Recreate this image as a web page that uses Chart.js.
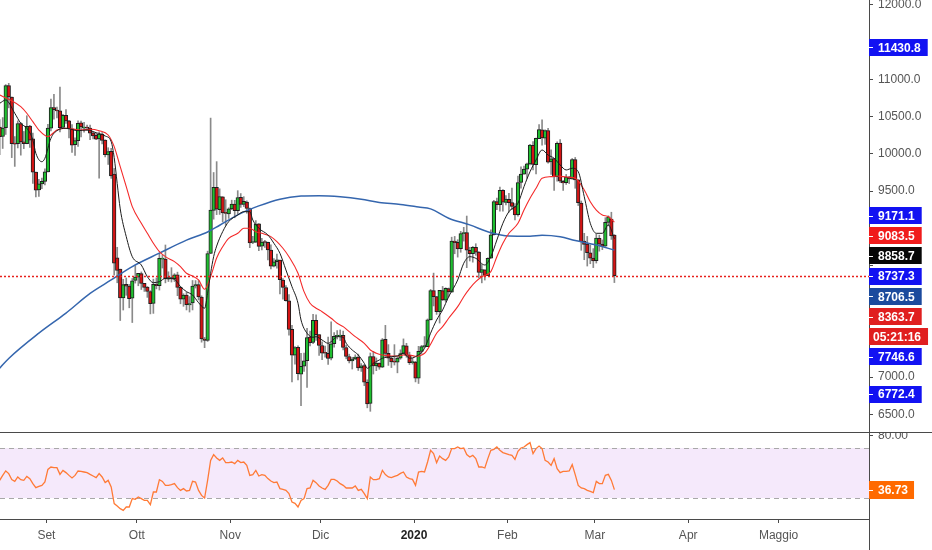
<!DOCTYPE html>
<html>
<head>
<meta charset="utf-8">
<title>BTC daily</title>
<script src="https://cdn.jsdelivr.net/npm/chart.js@4.4.1/dist/chart.umd.min.js"></script>
<style>
  html, body { margin: 0; padding: 0; background: #fff; }
  #wrap { position: relative; width: 932px; height: 550px; overflow: hidden; }
  #price { position: absolute; left: 0; top: 0; }
  #rsi { position: absolute; left: 0; top: 433px; }
</style>
</head>
<body>
<div id="wrap">
  <canvas id="price" width="932" height="433"></canvas>
  <canvas id="rsi" width="932" height="117"></canvas>
</div>
<script>
// Daily candles [open, high, low, close], Aug 17 2019 .. Mar 8 2020 (last one still open)
const ohlc = [
  [10360, 10460, 9990, 10230], [10233, 10487, 10072, 10345], [10350, 10930, 10260, 10917], [10917, 10947, 10618, 10763],
  [10764, 10764, 9949, 10138], [10142, 10232, 9831, 10131], [10136, 10442, 10079, 10407], [10407, 10419, 9982, 10159],
  [10161, 10301, 10070, 10138], [10136, 10512, 10135, 10370], [10373, 10382, 10087, 10185], [10203, 10279, 9601, 9755],
  [9756, 9756, 9421, 9510], [9514, 9656, 9428, 9598], [9597, 9673, 9531, 9630], [9630, 9797, 9582, 9757],
  // Sep
  [9758, 10396, 9758, 10347], [10345, 10736, 10308, 10623], [10621, 10800, 10465, 10594], [10588, 10627, 10481, 10575],
  [10578, 10898, 10294, 10353], [10354, 10532, 10354, 10518], [10518, 10595, 10409, 10441], [10443, 10450, 10214, 10334],
  [10336, 10394, 10020, 10115], [10123, 10215, 9980, 10178], [10176, 10442, 10099, 10410], [10415, 10441, 10226, 10360],
  [10345, 10422, 10291, 10358], [10357, 10387, 10313, 10347], [10347, 10386, 10189, 10276], [10281, 10296, 10199, 10241],
  [10248, 10275, 10191, 10198], [10200, 10295, 9674, 10266], [10266, 10285, 10132, 10181], [10183, 10188, 9960, 9988],
  [9985, 10082, 9857, 10031], [10032, 10074, 9670, 9702], [9729, 9804, 8370, 8530], [8604, 8744, 8267, 8432],
  [8450, 8450, 7760, 8064], [8063, 8314, 7901, 8243], [8246, 8332, 8099, 8223], [8222, 8245, 7931, 8055],
  [8061, 8325, 7733, 8292],
  // Oct
  [8299, 8497, 8263, 8343], [8344, 8393, 8227, 8393], [8390, 8413, 8177, 8259], [8260, 8260, 8151, 8205],
  [8210, 8216, 8071, 8151], [8149, 8161, 7849, 7988], [7989, 8316, 7856, 8245], [8246, 8332, 8185, 8228],
  [8229, 8665, 8169, 8595], [8586, 8640, 8465, 8586], [8585, 8775, 8266, 8321], [8315, 8415, 8284, 8336],
  [8336, 8470, 8277, 8321], [8321, 8390, 8284, 8374], [8373, 8410, 8094, 8205], [8205, 8216, 7985, 8047],
  [8048, 8120, 7951, 8103], [8101, 8138, 7902, 7973], [7971, 8082, 7874, 7988], [7997, 8298, 7902, 8222],
  [8225, 8297, 8196, 8243], [8243, 8296, 8037, 8078], [8076, 8092, 7469, 7514], [7510, 7533, 7395, 7493],
  [7493, 8692, 7479, 8660], [8660, 10480, 8660, 9244], [9241, 9749, 9122, 9551], [9549, 9895, 9183, 9256],
  [9249, 9530, 9186, 9427], [9422, 9426, 9085, 9205], [9202, 9383, 9040, 9199],
  // Nov
  [9193, 9275, 9132, 9261], [9259, 9377, 9249, 9324], [9325, 9375, 9141, 9235], [9235, 9505, 9191, 9413],
  [9414, 9466, 9280, 9320], [9320, 9424, 9291, 9360], [9352, 9368, 9202, 9267], [9265, 9272, 8739, 8804],
  [8809, 8891, 8793, 8813], [8812, 9103, 8806, 9055], [9059, 9062, 8700, 8757], [8759, 8864, 8710, 8815],
  [8813, 8836, 8742, 8808], [8812, 8813, 8576, 8708], [8705, 8778, 8453, 8491], [8491, 8591, 8479, 8550],
  [8550, 8653, 8463, 8577], [8573, 8573, 8117, 8309], [8305, 8323, 8048, 8206], [8203, 8229, 8021, 8027],
  [8023, 8110, 7564, 7642], [7643, 7697, 6936, 7296], [7296, 7410, 7175, 7397], [7399, 7420, 6962, 7047],
  [7039, 7319, 6617, 7146], [7145, 7321, 7077, 7218], [7220, 7656, 6861, 7531], [7536, 7617, 7419, 7464],
  [7466, 7844, 7448, 7761], [7764, 7836, 7494, 7569],
  // Dec
  [7571, 7571, 7291, 7424], [7424, 7474, 7233, 7322], [7323, 7418, 7268, 7320], [7320, 7539, 7170, 7252],
  [7253, 7743, 7232, 7448], [7450, 7597, 7401, 7546], [7547, 7625, 7512, 7556], [7551, 7633, 7491, 7564],
  [7561, 7618, 7365, 7400], [7398, 7428, 7245, 7278], [7277, 7308, 7190, 7217], [7216, 7266, 7108, 7243],
  [7245, 7299, 7234, 7269], [7268, 7308, 7089, 7124], [7124, 7181, 7076, 7152], [7153, 7171, 6884, 6932],
  [6931, 6964, 6587, 6640], [6647, 7324, 6540, 7277], [7277, 7346, 7041, 7151], [7151, 7257, 7086, 7187],
  [7188, 7190, 7105, 7132], [7132, 7518, 7128, 7501], [7508, 7695, 7268, 7317], [7318, 7436, 7157, 7255],
  [7255, 7272, 7128, 7204], [7205, 7436, 7162, 7202], [7202, 7275, 7057, 7254], [7255, 7366, 7239, 7317],
  [7317, 7513, 7305, 7422], [7420, 7454, 7266, 7292], [7294, 7335, 7169, 7193],
  // Jan
  [7194, 7254, 7174, 7200], [7202, 7212, 6935, 6985], [6984, 7413, 6914, 7345], [7345, 7427, 7309, 7410],
  [7410, 7544, 7400, 7411], [7410, 7781, 7409, 7769], [7768, 8178, 7768, 8163], [8161, 8397, 7956, 8079],
  [8082, 8082, 7842, 7879], [7878, 8166, 7726, 8166], [8162, 8218, 8029, 8038], [8033, 8200, 8009, 8192],
  [8189, 8197, 8079, 8144], [8141, 8880, 8141, 8827], [8826, 8890, 8657, 8807], [8812, 8846, 8612, 8723],
  [8726, 8958, 8677, 8929], [8927, 9012, 8827, 8942], [8941, 9164, 8470, 8706], [8704, 8745, 8560, 8658],
  [8658, 8755, 8544, 8745], [8744, 8792, 8636, 8680], [8680, 8687, 8333, 8406], [8405, 8514, 8266, 8445],
  [8440, 8442, 8304, 8367], [8364, 8601, 8363, 8596], [8597, 8977, 8597, 8910], [8912, 9375, 8908, 9358],
  [9357, 9406, 9249, 9316], [9316, 9553, 9230, 9508], [9508, 9521, 9230, 9350],
  // Feb
  [9346, 9439, 9313, 9392], [9390, 9468, 9217, 9344], [9344, 9540, 9248, 9293], [9292, 9331, 9112, 9180],
  [9183, 9701, 9163, 9613], [9617, 9824, 9539, 9729], [9726, 9834, 9726, 9795], [9793, 9876, 9670, 9865],
  [9863, 10129, 9850, 10116], [10115, 10165, 9784, 9856], [9855, 10210, 9729, 10208], [10202, 10393, 10202, 10326],
  [10323, 10457, 10116, 10214], [10211, 10321, 10125, 10312], [10313, 10341, 9874, 9889], [9890, 10053, 9722, 9934],
  [9936, 9938, 9507, 9690], [9692, 10161, 9632, 10142], [10144, 10191, 9611, 9633], [9629, 9643, 9507, 9608],
  [9611, 9723, 9589, 9687], [9687, 9698, 9600, 9663], [9663, 9937, 9657, 9924], [9921, 9951, 9537, 9650],
  [9651, 9652, 9305, 9342], [9338, 9366, 8704, 8820], [8826, 8932, 8577, 8784], [8788, 8890, 8492, 8672],
  [8671, 8775, 8523, 8599],
  // Mar
  [8599, 8726, 8471, 8562], [8563, 8921, 8532, 8869], [8866, 8907, 8692, 8787], [8788, 8843, 8712, 8755],
  [8760, 9142, 8757, 9079], [9078, 9167, 9032, 9153], [9122, 9215, 8850, 8898], [8908, 8914, 8270, 8364]
];

// moving averages: [candle index, value]
const ema9 = [
  [0, 10679], [2, 10723], [5, 10545], [7, 10410], [9, 10343], [11, 10186], [12, 10007], [14, 9894],
  [15, 9940], [17, 10209], [19, 10311], [22, 10343], [26, 10311], [29, 10320], [32, 10284], [35, 10240],
  [37, 10163], [38, 9950], [39, 9600], [40, 9260], [42, 8887], [44, 8618], [47, 8506], [49, 8349],
  [51, 8269], [53, 8282], [55, 8327], [58, 8314], [60, 8215], [62, 8148], [64, 8103], [66, 8000],
  [68, 7925], [69, 8126], [70, 8395], [71, 8618], [72, 8760], [74, 8954], [76, 9089], [79, 9178],
  [81, 9223], [83, 9223], [84, 9111], [86, 9000], [89, 8910], [91, 8798], [93, 8664], [95, 8439],
  [97, 8215], [99, 7992], [100, 7767], [102, 7589], [104, 7535], [105, 7543], [107, 7498], [109, 7454],
  [110, 7476], [112, 7543], [114, 7535], [115, 7454], [117, 7364], [119, 7297], [121, 7185], [122, 7118],
  [124, 7185], [126, 7230], [127, 7253], [130, 7274], [132, 7284], [134, 7320], [136, 7253], [138, 7274],
  [141, 7387], [143, 7589], [145, 7767], [147, 7902], [149, 8080], [152, 8305], [154, 8529], [156, 8618],
  [158, 8596], [161, 8506], [163, 8618], [165, 8842], [167, 9067], [169, 9223], [172, 9336], [174, 9559],
  [176, 9760], [178, 9917], [180, 10052], [182, 9984], [184, 9940], [186, 9850], [188, 9783], [190, 9806],
  [192, 9760], [194, 9424], [196, 9067], [198, 8932], [200, 8932], [202, 9044], [204, 8859]
];
const ema21 = [
  [0, 10790], [3, 10733], [7, 10634], [9, 10545], [11, 10432], [13, 10320], [16, 10231], [17, 10253],
  [19, 10320], [22, 10343], [27, 10320], [30, 10330], [33, 10311], [36, 10253], [38, 10096], [40, 9827],
  [42, 9559], [44, 9290], [47, 9067], [49, 8932], [51, 8798], [53, 8686], [55, 8618], [58, 8551],
  [60, 8484], [62, 8395], [64, 8359], [66, 8305], [68, 8180], [70, 8350], [72, 8600], [74, 8752],
  [76, 8865], [79, 8932], [81, 9000], [83, 9000], [85, 8954], [87, 8932], [90, 8887], [92, 8820],
  [94, 8731], [96, 8618], [99, 8395], [101, 8148], [103, 7992], [105, 7925], [107, 7879], [110, 7790],
  [112, 7723], [114, 7678], [116, 7610], [118, 7543], [121, 7454], [123, 7364], [125, 7320], [127, 7297],
  [130, 7284], [132, 7284], [134, 7297], [136, 7297], [138, 7280], [141, 7320], [143, 7440], [145, 7589],
  [147, 7678], [149, 7790], [152, 7946], [154, 8080], [156, 8193], [158, 8282], [160, 8349], [163, 8417],
  [165, 8618], [167, 8798], [169, 8932], [172, 9067], [174, 9245], [176, 9403], [178, 9537], [180, 9671],
  [183, 9693], [185, 9702], [187, 9693], [189, 9685], [191, 9671], [194, 9514], [196, 9357], [198, 9245],
  [200, 9178], [202, 9155], [204, 9083]
];
const sma200 = [
  [0, 7120], [3, 7250], [13, 7590], [22, 7860], [30, 8125], [37, 8305], [44, 8485], [53, 8665],
  [62, 8840], [69, 8950], [73, 9040], [80, 9200], [86, 9300], [93, 9390], [100, 9432], [106, 9438],
  [113, 9424], [120, 9390], [126, 9345], [133, 9320], [139, 9285], [143, 9260], [149, 9135], [156, 9045],
  [163, 8940], [169, 8896], [176, 8893], [180, 8905], [186, 8885], [191, 8835], [198, 8775], [204, 8706]
];

// RSI, one value per candle
const rsiValues = [
  44.1, 48.1, 51.6, 49.5, 44.7, 43.3, 46.8, 44.7, 44.1, 47.3,
  45.5, 41.5, 38.3, 39.3, 40.1, 42.8, 52.9, 54.8, 54.3, 54.3,
  48.9, 52.1, 50.3, 48.1, 46.0, 48.1, 51.6, 51.3, 50.8, 50.3,
  48.9, 47.6, 46.3, 49.5, 46.8, 42.3, 44.1, 38.8, 25.5, 23.6,
  21.5, 20.1, 22.8, 22.8, 29.5, 28.9, 30.8, 29.5, 28.1, 28.1,
  24.7, 34.8, 34.8, 44.7, 43.3, 40.1, 40.1, 40.7, 41.5, 38.3,
  36.1, 37.5, 35.6, 36.1, 43.3, 42.8, 36.1, 32.1, 30.0, 44.1,
  60.1, 64.7, 62.0, 60.1, 62.0, 58.3, 58.3, 58.8, 57.5, 60.1,
  58.3, 58.8, 56.1, 48.1, 48.7, 52.1, 47.6, 48.7, 48.1, 45.5,
  43.6, 42.3, 42.8, 37.5, 36.9, 36.1, 33.5, 26.8, 25.7, 22.8,
  28.1, 29.5, 37.5, 38.0, 44.1, 42.3, 39.6, 38.0, 36.9, 40.1,
  44.9, 44.9, 43.6, 41.5, 40.1, 38.0, 38.0, 38.0, 39.6, 36.1,
  36.9, 33.5, 29.5, 46.8, 44.7, 44.7, 45.5, 52.1, 48.7, 46.8,
  46.3, 47.3, 48.1, 49.7, 50.8, 46.8, 45.5, 44.9, 40.1, 50.8,
  51.3, 50.8, 58.8, 68.1, 65.5, 58.3, 63.6, 61.5, 60.1, 62.8,
  69.5, 69.5, 70.8, 69.5, 70.0, 64.7, 62.8, 64.1, 61.5, 54.8,
  54.8, 54.0, 61.5, 68.1, 68.9, 70.8, 68.1, 66.3, 65.5, 64.7,
  64.1, 60.9, 67.3, 70.0, 70.8, 72.7, 74.3, 65.5, 69.5, 71.6,
  69.5, 60.1, 58.8, 56.1, 61.5, 53.5, 50.3, 51.3, 51.3, 51.6,
  56.7, 48.7, 40.1, 38.0, 37.5, 36.1, 35.3, 34.3, 43.3, 41.5,
  41.5, 48.1, 48.9, 44.1, 36.73
];

const priceTicks = [6500, 7000, 7500, 8000, 8500, 9000, 9500, 10000, 10500, 11000, 11500, 12000];
const rsiTicks = [80];
const rsiBands = [30, 70];
// month starts, in days from Sep 1 2019
const monthDays = [0, 30, 61, 91, 122, 153, 182, 213, 243];
const monthLabels = ['Set', 'Ott', 'Nov', 'Dic', '2020', 'Feb', 'Mar', 'Apr', 'Maggio'];
// value tags on the price scale
const tagValues = [11430.8, 9171.1, 9083.5, 8858.7, 8737.3, 8706.5, 8363.7, 7746.6, 6772.4];
const lastPrice = 8363.7;
const countdown = '05:21:16';
const rsiLast = 36.73;

// ---- view / style ----
const FIRST_DAY = -15.5;          // Aug 17 in days from Sep 1
const X_MIN = -15.4, X_MAX = 273;
const PRICE_MIN = 6262, PRICE_MAX = 12067;
const RSI_MIN = 13.2, RSI_MAX = 82;
const AXIS_W = 63;
const AXIS = '#4a4a4a';
const TEXT = '#555555';
const GREEN = '#1fbf30', RED = '#d41414', EDGE = '#1e1e1e', WICK = '#8a8a8a';
const RSI_COLOR = '#ff7a36';
const tagColors = ['#1212f2', '#1212f2', '#f01b1b', '#060606', '#1212f2', '#1b4a9d', '#e01f1f', '#1212f2', '#1212f2'];
const TAG_STEP = 20.2, TAG_H = 17;
const TAG_FONT = 'bold 12px "Liberation Sans", Arial, sans-serif';

Chart.defaults.font.family = '"Liberation Sans", Arial, sans-serif';
Chart.defaults.font.size = 12;

const candleX = i => i + FIRST_DAY;
const toPoints = pairs => pairs.map(p => ({ x: candleX(p[0]), y: p[1] }));

// no label padding around the panes: they are cut exactly like the screenshot
function fixAxis(size) {
  return s => {
    if (s.isHorizontal()) s.height = size; else s.width = size;
    s.paddingTop = 0; s.paddingBottom = 0; s.paddingLeft = 0; s.paddingRight = 0;
  };
}

// TradingView stacks overlapping tags downwards
function tagLayout(scale) {
  const slots = [];
  tagValues.forEach((v, k) => {
    const y = scale.getPixelForValue(v);
    slots.push({ y, text: v.toFixed(1), color: tagColors[k], tick: true });
    if (v === lastPrice) {
      slots.push({ y: y + TAG_STEP, text: countdown, color: tagColors[k], tick: false });
    }
  });
  slots.sort((a, b) => a.y - b.y);
  for (let k = 1; k < slots.length; k++) {
    slots[k].y = Math.max(slots[k].y, slots[k - 1].y + TAG_STEP);
  }
  return slots;
}

function drawTag(ctx, x0, t) {
  ctx.font = TAG_FONT;
  const textX = t.tick ? x0 + 9 : x0 + 4;
  const w = textX - x0 + ctx.measureText(t.text).width + 7;
  ctx.fillStyle = t.color;
  ctx.fillRect(x0, Math.round(t.y - TAG_H / 2), w, TAG_H);
  if (t.tick) {
    ctx.strokeStyle = '#fff';
    ctx.lineWidth = 1;
    ctx.beginPath();
    ctx.moveTo(x0, Math.round(t.y) + 0.5);
    ctx.lineTo(x0 + 4, Math.round(t.y) + 0.5);
    ctx.stroke();
  }
  ctx.fillStyle = '#fff';
  ctx.textBaseline = 'middle';
  ctx.textAlign = 'left';
  ctx.fillText(t.text, textX, t.y + 1);
}

const priceOverlay = {
  id: 'priceOverlay',
  afterDatasetsDraw(chart) {
    const { ctx, chartArea, scales } = chart;
    const py = Math.round(scales.y.getPixelForValue(lastPrice)) + 0.5;
    ctx.save();
    ctx.strokeStyle = '#e8201c';
    ctx.lineWidth = 1.5;
    ctx.setLineDash([2, 2]);
    ctx.beginPath();
    ctx.moveTo(chartArea.left, py);
    ctx.lineTo(chartArea.right, py);
    ctx.stroke();
    ctx.restore();
  },
  afterDraw(chart) {
    const { ctx, chartArea, scales } = chart;
    ctx.save();
    ctx.strokeStyle = AXIS;
    ctx.lineWidth = 1;
    ctx.beginPath();
    ctx.moveTo(0, chartArea.bottom + 0.5);
    ctx.lineTo(chart.width, chartArea.bottom + 0.5);
    ctx.stroke();
    tagLayout(scales.y).forEach(t => drawTag(ctx, chartArea.right, t));
    ctx.restore();
  }
};

const rsiOverlay = {
  id: 'rsiOverlay',
  beforeDatasetsDraw(chart) {
    const { ctx, chartArea, scales } = chart;
    const top = scales.y.getPixelForValue(rsiBands[1]);
    const bottom = scales.y.getPixelForValue(rsiBands[0]);
    ctx.save();
    ctx.fillStyle = '#f5e9fb';
    ctx.fillRect(chartArea.left, top, chartArea.right - chartArea.left, bottom - top);
    ctx.strokeStyle = '#a8a8a8';
    ctx.lineWidth = 1;
    ctx.setLineDash([5, 4]);
    [top, bottom].forEach(y => {
      ctx.beginPath();
      ctx.moveTo(chartArea.left, Math.round(y) + 0.5);
      ctx.lineTo(chartArea.right, Math.round(y) + 0.5);
      ctx.stroke();
    });
    ctx.restore();
  },
  afterDraw(chart) {
    const { ctx, chartArea, scales } = chart;
    ctx.save();
    ctx.strokeStyle = AXIS;
    ctx.lineWidth = 1;
    ctx.beginPath();
    ctx.moveTo(chartArea.right + 0.5, 0);
    ctx.lineTo(chartArea.right + 0.5, chart.height);
    ctx.stroke();
    ctx.font = TAG_FONT;
    const y = scales.y.getPixelForValue(rsiLast);
    const x0 = chartArea.right;
    const w = 9 + ctx.measureText(rsiLast.toFixed(2)).width + 6;
    ctx.fillStyle = '#ff6a00';
    ctx.fillRect(x0, Math.round(y - 9), w, 18);
    ctx.strokeStyle = '#fff';
    ctx.beginPath();
    ctx.moveTo(x0, Math.round(y) + 0.5);
    ctx.lineTo(x0 + 4, Math.round(y) + 0.5);
    ctx.stroke();
    ctx.fillStyle = '#fff';
    ctx.textBaseline = 'middle';
    ctx.fillText(rsiLast.toFixed(2), x0 + 9, y + 1);
    ctx.restore();
  }
};

new Chart(document.getElementById('price'), {
  type: 'bar',
  data: {
    datasets: [
      { type: 'line', data: toPoints(ema9), borderColor: '#1c1c1c', borderWidth: 1,
        pointRadius: 0, cubicInterpolationMode: 'monotone', order: 0 },
      { type: 'line', data: toPoints(ema21), borderColor: '#f42a2a', borderWidth: 1.1,
        pointRadius: 0, cubicInterpolationMode: 'monotone', order: 0 },
      { type: 'line', data: toPoints(sma200), borderColor: '#3566ae', borderWidth: 1.5,
        pointRadius: 0, cubicInterpolationMode: 'monotone', order: 0 },
      { data: ohlc.map((c, i) => ({ x: candleX(i), y: [c[0], c[3]] })),
        backgroundColor: ohlc.map(c => (c[3] >= c[0] ? GREEN : RED)),
        borderColor: EDGE, borderWidth: 1, borderSkipped: false,
        barThickness: 3.6, minBarLength: 1, grouped: false, order: 1 },
      { data: ohlc.map((c, i) => ({ x: candleX(i), y: [c[2], c[1]] })),
        backgroundColor: WICK, barThickness: 1, grouped: false, order: 2 }
    ]
  },
  options: {
    responsive: false,
    animation: false,
    events: [],
    layout: { padding: { bottom: 1 }, autoPadding: false },
    plugins: { legend: { display: false }, tooltip: { enabled: false } },
    scales: {
      x: { type: 'linear', min: X_MIN, max: X_MAX, offset: false, display: false },
      y: {
        position: 'right',
        min: PRICE_MIN,
        max: PRICE_MAX,
        afterBuildTicks: s => { s.ticks = priceTicks.map(v => ({ value: v })); },
        afterFit: fixAxis(AXIS_W),
        grid: { drawOnChartArea: false, tickLength: 4, color: AXIS },
        border: { color: AXIS },
        ticks: {
          padding: 5,
          callback: v => v.toFixed(1),
          color: ctx => {
            const py = ctx.scale.getPixelForValue(ctx.tick.value);
            const covered = tagLayout(ctx.scale).some(t => Math.abs(t.y - py) < 14);
            return covered ? 'rgba(0,0,0,0)' : TEXT;
          }
        }
      }
    }
  },
  plugins: [priceOverlay]
});

new Chart(document.getElementById('rsi'), {
  type: 'line',
  data: {
    datasets: [{
      data: rsiValues.map((v, i) => ({ x: candleX(i), y: v })),
      borderColor: RSI_COLOR, borderWidth: 1.3, pointRadius: 0, tension: 0
    }]
  },
  options: {
    responsive: false,
    animation: false,
    events: [],
    layout: { autoPadding: false },
    plugins: { legend: { display: false }, tooltip: { enabled: false } },
    scales: {
      x: {
        type: 'linear', min: X_MIN, max: X_MAX, offset: false,
        afterBuildTicks: s => { s.ticks = monthDays.map(v => ({ value: v })); },
        afterFit: fixAxis(31),
        grid: { drawOnChartArea: false, tickLength: 4, color: AXIS },
        border: { color: AXIS },
        ticks: {
          padding: 5, maxRotation: 0, autoSkip: false,
          callback: (v, k) => monthLabels[k],
          color: ctx => (monthLabels[ctx.index] === '2020' ? '#222' : TEXT),
          font: ctx => ({ size: 12, weight: monthLabels[ctx.index] === '2020' ? 'bold' : 'normal' })
        }
      },
      y: {
        position: 'right', min: RSI_MIN, max: RSI_MAX,
        afterBuildTicks: s => { s.ticks = rsiTicks.map(v => ({ value: v })); },
        afterFit: fixAxis(AXIS_W),
        grid: { drawOnChartArea: false, tickLength: 4, color: AXIS },
        border: { color: AXIS },
        ticks: { padding: 5, color: TEXT, callback: v => v.toFixed(2) }
      }
    }
  },
  plugins: [rsiOverlay]
});
</script>
</body>
</html>
